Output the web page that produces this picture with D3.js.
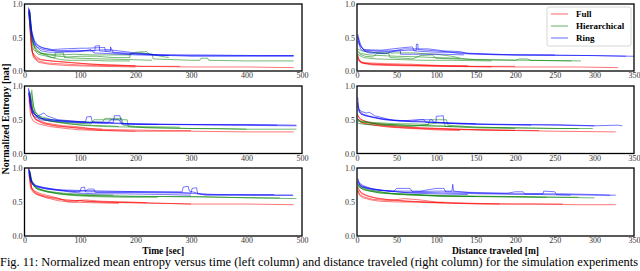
<!DOCTYPE html>
<html><head><meta charset="utf-8">
<script src="https://cdn.jsdelivr.net/npm/d3@7"></script>
<style>
html,body{margin:0;padding:0;background:#fff;overflow:hidden}
text{font-family:"Liberation Serif","DejaVu Serif",serif}
</style></head>
<body><svg id="c" width="640" height="271"></svg>
<script>
// ---------------- data ----------------
const methods = ["Full", "Hierarchical", "Ring"];
const colors = ["#ff0000", "#008000", "#0000ff"];
const yTicks = [0.0, 0.5, 1.0];
const timeTicks = [0, 100, 200, 300, 400, 500];
const distTicks = [0, 50, 100, 150, 200, 250, 300, 350];
const xLabels = ["Time [sec]", "Distance traveled [m]"];
const yLabel = "Normalized Entropy [nat]";
const caption = "Fig. 11: Normalized mean entropy versus time (left column) and distance traveled (right column) for the simulation experiments";

// row 1, time
const tA_full = [
 [[8,0.92],[10,0.6],[13,0.3],[18,0.2],[25,0.15],[40,0.12],[60,0.11],[100,0.09],[150,0.08],[200,0.07],[300,0.06],[400,0.06],[485,0.05]],
 [[9,0.9],[12,0.45],[15,0.25],[22,0.18],[35,0.16],[60,0.14],[90,0.12],[110,0.11],[150,0.09],[200,0.08]],
 [[8,0.88],[11,0.5],[14,0.28],[20,0.22],[30,0.17],[50,0.15],[80,0.13],[120,0.1],[160,0.09],[210,0.07],[280,0.07]],
 [[10,0.85],[12,0.4],[16,0.2],[25,0.13],[45,0.1],[80,0.08],[130,0.07],[200,0.06]]];
const tA_hier = [
 [[9,0.9],[12,0.6],[16,0.4],[22,0.32],[30,0.27],[45,0.24],[60,0.22],[80,0.21],[100,0.22],[130,0.22],[160,0.2],[190,0.2],[190,0.26],[210,0.27],[230,0.25],[232,0.18],[300,0.16],[316,0.16],[318,0.19],[330,0.19],[332,0.16],[400,0.15],[485,0.15]],
 [[10,0.88],[13,0.55],[18,0.35],[25,0.28],[35,0.25],[50,0.2],[55,0.2],[55,0.27],[70,0.27],[72,0.2],[100,0.19],[140,0.18],[190,0.17],[230,0.16]],
 [[8,0.85],[12,0.5],[16,0.32],[25,0.25],[40,0.22],[65,0.17],[80,0.16],[120,0.16],[150,0.15],[190,0.15]],
 [[9,0.9],[14,0.45],[20,0.3],[30,0.26],[60,0.24],[90,0.25],[120,0.24],[190,0.24],[200,0.28],[220,0.29],[225,0.25],[260,0.2]]];
const tA_ring = [
 [[7,0.95],[10,0.75],[13,0.55],[18,0.42],[22,0.36],[30,0.33],[40,0.31],[60,0.3],[90,0.31],[120,0.3],[127,0.3],[127,0.37],[135,0.38],[135,0.3],[160,0.28],[200,0.26],[250,0.24],[300,0.23],[400,0.23],[485,0.23]],
 [[8,0.93],[11,0.7],[15,0.5],[20,0.4],[30,0.35],[50,0.32],[70,0.33],[100,0.34],[110,0.34],[140,0.35],[145,0.35],[145,0.3],[155,0.3],[155,0.36],[160,0.27],[200,0.25],[300,0.22],[485,0.22]],
 [[7,0.9],[10,0.65],[14,0.45],[20,0.37],[30,0.3],[45,0.28],[60,0.28],[100,0.29],[120,0.32],[125,0.27],[150,0.26],[200,0.24],[260,0.23]],
 [[9,0.92],[13,0.6],[18,0.45],[25,0.38],[35,0.34],[55,0.3],[80,0.29],[110,0.3],[150,0.32],[200,0.27],[240,0.24],[320,0.24],[420,0.23],[485,0.23]]];

// row 1, distance
const dA_full = [
 [[1,0.22],[3,0.15],[8,0.12],[20,0.1],[40,0.09],[80,0.08],[120,0.07],[200,0.06],[280,0.06],[330,0.05]],
 [[1,0.2],[4,0.14],[10,0.11],[30,0.1],[60,0.09],[100,0.08],[150,0.07],[200,0.07]],
 [[1,0.25],[2,0.18],[6,0.13],[15,0.12],[35,0.11],[70,0.1],[110,0.08],[140,0.08]],
 [[1,0.17],[5,0.12],[20,0.09],[50,0.08],[100,0.07],[170,0.06]]];
const dA_hier = [
 [[1,0.3],[5,0.26],[15,0.24],[30,0.23],[50,0.22],[80,0.21],[100,0.2],[130,0.19],[150,0.17],[200,0.16],[205,0.18],[215,0.18],[220,0.16],[283,0.15]],
 [[1,0.28],[4,0.25],[10,0.22],[20,0.21],[25,0.26],[40,0.26],[42,0.2],[60,0.19],[70,0.18],[80,0.23],[95,0.24],[100,0.19],[150,0.17],[271,0.15]],
 [[1,0.33],[6,0.3],[15,0.28],[40,0.27],[70,0.27],[100,0.25],[120,0.22],[130,0.19]],
 [[1,0.25],[8,0.2],[25,0.18],[55,0.17],[85,0.16],[120,0.16],[170,0.15]]];
const dA_ring = [
 [[1,0.55],[3,0.45],[6,0.35],[10,0.31],[25,0.3],[50,0.3],[65,0.31],[75,0.31],[75,0.4],[77,0.4],[77,0.32],[100,0.3],[120,0.28],[150,0.26],[200,0.24],[300,0.23],[350,0.22]],
 [[1,0.5],[4,0.38],[10,0.3],[20,0.28],[40,0.29],[60,0.33],[90,0.33],[110,0.3],[130,0.29],[140,0.26],[200,0.24],[300,0.23],[340,0.22]],
 [[1,0.45],[5,0.32],[15,0.27],[35,0.26],[50,0.3],[55,0.3],[55,0.25],[85,0.25],[110,0.25],[135,0.24]],
 [[1,0.52],[3,0.4],[8,0.32],[30,0.31],[60,0.35],[70,0.36],[72,0.3],[100,0.28],[118,0.28],[130,0.26],[180,0.24],[250,0.24]]];

// row 2, time
const tB_full = [
 [[8,0.9],[12,0.62],[18,0.52],[30,0.46],[50,0.42],[80,0.39],[110,0.36],[140,0.34],[200,0.33],[300,0.33],[400,0.32],[485,0.32]],
 [[9,0.85],[13,0.6],[20,0.5],[35,0.44],[60,0.4],[100,0.38],[130,0.36],[180,0.35],[250,0.34],[300,0.34]],
 [[8,0.8],[11,0.55],[16,0.48],[25,0.44],[45,0.4],[75,0.37],[100,0.35],[150,0.34],[200,0.33]],
 [[10,0.88],[14,0.58],[22,0.5],[40,0.45],[70,0.41],[90,0.4],[120,0.37],[140,0.36]]];
const tB_hier = [
 [[13,0.95],[16,0.7],[22,0.58],[35,0.5],[60,0.47],[90,0.45],[120,0.44],[125,0.5],[160,0.5],[185,0.5],[187,0.4],[220,0.38],[300,0.37],[400,0.36],[490,0.36]],
 [[10,0.9],[15,0.65],[22,0.55],[35,0.5],[60,0.46],[100,0.42],[140,0.4],[200,0.39],[250,0.38],[300,0.37],[350,0.37],[400,0.36]],
 [[11,0.85],[16,0.6],[25,0.53],[45,0.48],[80,0.44],[110,0.42],[150,0.41],[170,0.4]],
 [[12,0.92],[18,0.62],[28,0.55],[50,0.5],[100,0.47],[140,0.46],[145,0.52],[175,0.52],[178,0.42],[200,0.4],[280,0.39]]];
const tB_ring = [
 [[7,0.97],[10,0.75],[15,0.6],[25,0.53],[45,0.5],[70,0.48],[100,0.47],[110,0.47],[112,0.54],[120,0.55],[122,0.47],[160,0.46],[162,0.56],[172,0.56],[175,0.44],[200,0.43],[300,0.43],[400,0.43],[490,0.42]],
 [[8,0.95],[12,0.7],[18,0.58],[30,0.52],[50,0.5],[80,0.47],[100,0.46],[140,0.46],[170,0.45],[200,0.44],[300,0.43],[455,0.42]],
 [[9,0.92],[13,0.65],[22,0.55],[35,0.6],[40,0.56],[60,0.5],[90,0.48],[120,0.46],[150,0.45],[155,0.5],[170,0.5],[175,0.44],[250,0.43],[350,0.42],[490,0.41]],
 [[7,0.9],[11,0.68],[16,0.56],[28,0.5],[50,0.48],[90,0.46],[130,0.45],[180,0.44],[240,0.43]]];

// row 2, distance
const dB_full = [
 [[1,0.56],[5,0.5],[15,0.46],[25,0.44],[50,0.41],[80,0.38],[120,0.36],[150,0.35],[200,0.34],[250,0.33],[327,0.32]],
 [[1,0.52],[4,0.47],[12,0.44],[30,0.41],[60,0.38],[100,0.36],[150,0.35],[200,0.34]],
 [[1,0.5],[6,0.45],[20,0.42],[40,0.39],[70,0.37],[100,0.35],[130,0.34]],
 [[1,0.58],[3,0.52],[10,0.48],[25,0.43],[45,0.4],[75,0.38],[110,0.37],[160,0.35],[230,0.34]]];
const dB_hier = [
 [[1,0.51],[5,0.48],[20,0.46],[50,0.44],[67,0.44],[90,0.43],[92,0.5],[113,0.5],[115,0.42],[151,0.39],[200,0.38],[250,0.37],[298,0.37]],
 [[1,0.48],[8,0.46],[25,0.44],[60,0.42],[100,0.41],[150,0.39],[200,0.38],[260,0.37],[280,0.37]],
 [[1,0.45],[10,0.43],[30,0.42],[70,0.4],[100,0.45],[110,0.45],[112,0.4],[150,0.38],[200,0.37]],
 [[1,0.5],[6,0.47],[18,0.45],[40,0.43],[80,0.41],[120,0.4]]];
const dB_ring = [
 [[1,0.83],[2,0.66],[6,0.62],[12,0.6],[16,0.61],[22,0.56],[46,0.49],[70,0.47],[100,0.46],[100,0.55],[109,0.56],[110,0.45],[130,0.44],[180,0.43],[235,0.42],[300,0.41],[330,0.42],[335,0.41]],
 [[1,0.75],[3,0.63],[8,0.58],[20,0.54],[40,0.5],[70,0.48],[80,0.5],[95,0.5],[97,0.46],[130,0.44],[200,0.43],[250,0.43],[300,0.41]],
 [[1,0.7],[4,0.6],[10,0.56],[30,0.51],[60,0.48],[90,0.47],[120,0.45],[160,0.43],[220,0.42]],
 [[1,0.65],[5,0.58],[15,0.55],[35,0.5],[55,0.48],[75,0.5],[85,0.5],[87,0.46],[130,0.45],[150,0.44]]];

// row 3, time
const tC_full = [
 [[8,1.0],[10,0.8],[14,0.68],[20,0.64],[30,0.6],[46,0.57],[64,0.55],[76,0.51],[90,0.5],[100,0.52],[110,0.51],[150,0.5],[200,0.49],[300,0.47],[400,0.47],[485,0.46]],
 [[9,0.95],[12,0.72],[18,0.66],[30,0.62],[50,0.58],[70,0.53],[100,0.52],[130,0.5],[180,0.49],[250,0.48],[300,0.47]],
 [[8,0.9],[11,0.7],[16,0.64],[25,0.6],[40,0.56],[60,0.52],[80,0.5],[120,0.49],[170,0.48]],
 [[10,0.92],[13,0.7],[20,0.62],[35,0.58],[60,0.54],[90,0.52],[110,0.53],[140,0.51],[190,0.5],[220,0.49]]];
const tC_hier = [
 [[8,0.98],[12,0.8],[20,0.72],[35,0.67],[60,0.62],[76,0.61],[100,0.6],[136,0.59],[200,0.58],[316,0.58],[400,0.56],[490,0.55]],
 [[9,0.96],[13,0.78],[20,0.7],[40,0.65],[70,0.62],[100,0.6],[150,0.59],[250,0.58],[350,0.57],[460,0.56]],
 [[10,0.95],[15,0.75],[25,0.68],[45,0.64],[80,0.6],[120,0.58],[180,0.57],[240,0.57]],
 [[9,0.92],[14,0.76],[22,0.7],[40,0.66],[70,0.63],[110,0.61],[160,0.6]]];
const tC_ring = [
 [[7,1.0],[10,0.85],[15,0.78],[21,0.74],[35,0.71],[50,0.69],[70,0.67],[96,0.65],[100,0.65],[102,0.71],[108,0.72],[110,0.65],[150,0.65],[200,0.65],[277,0.65],[284,0.65],[286,0.72],[295,0.73],[297,0.66],[326,0.6],[400,0.6],[484,0.6]],
 [[8,0.98],[12,0.82],[20,0.74],[35,0.7],[55,0.68],[80,0.66],[110,0.66],[115,0.69],[125,0.69],[128,0.64],[200,0.64],[290,0.63],[300,0.63],[302,0.7],[310,0.71],[312,0.62],[350,0.61],[450,0.61]],
 [[7,0.95],[11,0.8],[18,0.74],[30,0.72],[45,0.7],[60,0.68],[100,0.67],[150,0.66],[220,0.65],[280,0.64],[330,0.61],[420,0.6],[484,0.6]],
 [[9,0.97],[13,0.78],[22,0.72],[40,0.69],[70,0.66],[100,0.63],[130,0.62],[180,0.62],[250,0.61],[300,0.6]]];

// row 3, distance
const dC_full = [
 [[1,0.72],[5,0.64],[12,0.6],[25,0.55],[46,0.53],[70,0.51],[88,0.5],[120,0.48],[160,0.47],[220,0.47],[280,0.46],[327,0.46]],
 [[1,0.68],[4,0.6],[10,0.57],[20,0.54],[40,0.52],[60,0.55],[80,0.53],[100,0.5],[150,0.48],[200,0.47],[260,0.47]],
 [[1,0.7],[6,0.62],[15,0.58],[35,0.54],[60,0.51],[90,0.49],[130,0.48],[180,0.47]],
 [[1,0.66],[3,0.6],[8,0.56],[18,0.53],[30,0.51],[55,0.5],[80,0.5],[110,0.49]]];
const dC_hier = [
 [[1,0.77],[5,0.72],[15,0.68],[30,0.65],[46,0.62],[70,0.61],[109,0.59],[150,0.58],[200,0.58],[250,0.57],[300,0.56]],
 [[1,0.75],[6,0.7],[20,0.66],[40,0.63],[70,0.6],[100,0.59],[150,0.58],[200,0.57],[280,0.57]],
 [[1,0.73],[8,0.68],[25,0.64],[50,0.61],[80,0.6],[110,0.58],[150,0.58]],
 [[1,0.76],[4,0.71],[12,0.67],[30,0.63],[60,0.62],[90,0.6],[130,0.59],[200,0.58],[240,0.57]]];
const dC_ring = [
 [[1,0.85],[3,0.78],[8,0.74],[20,0.69],[46,0.65],[50,0.7],[67,0.7],[70,0.65],[100,0.66],[120,0.66],[121,0.76],[122,0.66],[150,0.63],[200,0.62],[235,0.62],[236,0.66],[250,0.65],[252,0.61],[300,0.6],[327,0.6]],
 [[1,0.82],[4,0.75],[12,0.71],[30,0.67],[55,0.66],[80,0.66],[100,0.7],[110,0.7],[112,0.65],[150,0.64],[190,0.63],[200,0.65],[210,0.65],[212,0.62],[260,0.62],[300,0.61],[320,0.6]],
 [[1,0.8],[5,0.73],[15,0.7],[35,0.67],[60,0.64],[90,0.64],[120,0.63],[160,0.62],[230,0.61],[270,0.6]],
 [[1,0.78],[6,0.72],[20,0.68],[40,0.66],[70,0.63],[100,0.62],[140,0.61]]];

// ---------------- layout ----------------
const svg = d3.select("#c");
const colX = [[24.5, 302], [357, 634]];
const rowY = [[4, 71], [86, 153.5], [168, 236]];
const xDomains = [[0, 500], [0, 350]];
const xTickSets = [timeTicks, distTicks];
const panels = [
  [[tA_full, tA_hier, tA_ring], [dA_full, dA_hier, dA_ring]],
  [[tB_full, tB_hier, tB_ring], [dB_full, dB_hier, dB_ring]],
  [[tC_full, tC_hier, tC_ring], [dC_full, dC_hier, dC_ring]]
];

panels.forEach((row, r) => {
  row.forEach((series, c) => {
    const x = d3.scaleLinear().domain(xDomains[c]).range(colX[c]);
    const y = d3.scaleLinear().domain([0, 1]).range([rowY[r][1], rowY[r][0]]);
    const g = svg.append("g");
    const clipId = "clip" + r + c;
    svg.append("clipPath").attr("id", clipId).append("rect")
      .attr("x", colX[c][0]).attr("y", rowY[r][0])
      .attr("width", colX[c][1] - colX[c][0]).attr("height", rowY[r][1] - rowY[r][0]);
    const line = d3.line().x(d => x(d[0])).y(d => y(d[1]));
    const lg = g.append("g").attr("clip-path", `url(#${clipId})`);
    series.forEach((runs, m) => {
      runs.forEach(run => {
        lg.append("path").attr("d", line(run)).attr("fill", "none")
          .attr("stroke", colors[m]).attr("stroke-width", 0.9)
          .attr("stroke-opacity", 0.6).attr("stroke-linejoin", "round");
      });
    });
    const xa = g.append("g").attr("transform", `translate(0,${rowY[r][1]})`)
      .call(d3.axisBottom(x).tickValues(xTickSets[c]).tickSize(0).tickPadding(1.5).tickFormat(d3.format("d")));
    const ya = g.append("g").attr("transform", `translate(${colX[c][0]},0)`)
      .call(d3.axisLeft(y).tickValues(yTicks).tickSize(0).tickPadding(2).tickFormat(d3.format(".1f")));
    [xa, ya].forEach(a => {
      a.select(".domain").remove();
      a.selectAll("text").attr("font-family", "Liberation Serif").attr("font-size", 8).attr("fill", "#333");
    });
    g.append("rect").attr("x", colX[c][0]).attr("y", rowY[r][0])
      .attr("width", colX[c][1] - colX[c][0]).attr("height", rowY[r][1] - rowY[r][0])
      .attr("fill", "none").attr("stroke", "#000").attr("stroke-width", 1.3);
  });
});

// x labels
xLabels.forEach((t, c) => {
  svg.append("text").attr("x", (colX[c][0] + colX[c][1]) / 2).attr("y", 253.5)
    .attr("text-anchor", "middle").attr("font-size", 9.5).attr("font-weight", "bold").text(t);
});
// y label
svg.append("text").attr("transform", "translate(9,119) rotate(-90)")
  .attr("text-anchor", "middle").attr("font-size", 10).attr("font-weight", "bold").text(yLabel);

// legend
const lgd = svg.append("g");
lgd.append("rect").attr("x", 547).attr("y", 7).attr("width", 84).attr("height", 39)
  .attr("rx", 2).attr("fill", "#fff").attr("fill-opacity", 0.9).attr("stroke", "#ccc").attr("stroke-width", 0.8);
methods.forEach((m, i) => {
  const yy = 14 + i * 12;
  lgd.append("line").attr("x1", 551).attr("x2", 568).attr("y1", yy).attr("y2", yy)
    .attr("stroke", colors[i]).attr("stroke-opacity", 0.6).attr("stroke-width", 1);
  lgd.append("text").attr("x", 576).attr("y", yy + 3).attr("font-size", 9)
    .attr("font-weight", "bold").text(m);
});

// caption (fits within the 640px width and height)
svg.append("text").attr("x", 0).attr("y", 266).attr("font-size", 12.2)
  .attr("textLength", 638).attr("lengthAdjust", "spacingAndGlyphs").text(caption);
</script></body></html>
